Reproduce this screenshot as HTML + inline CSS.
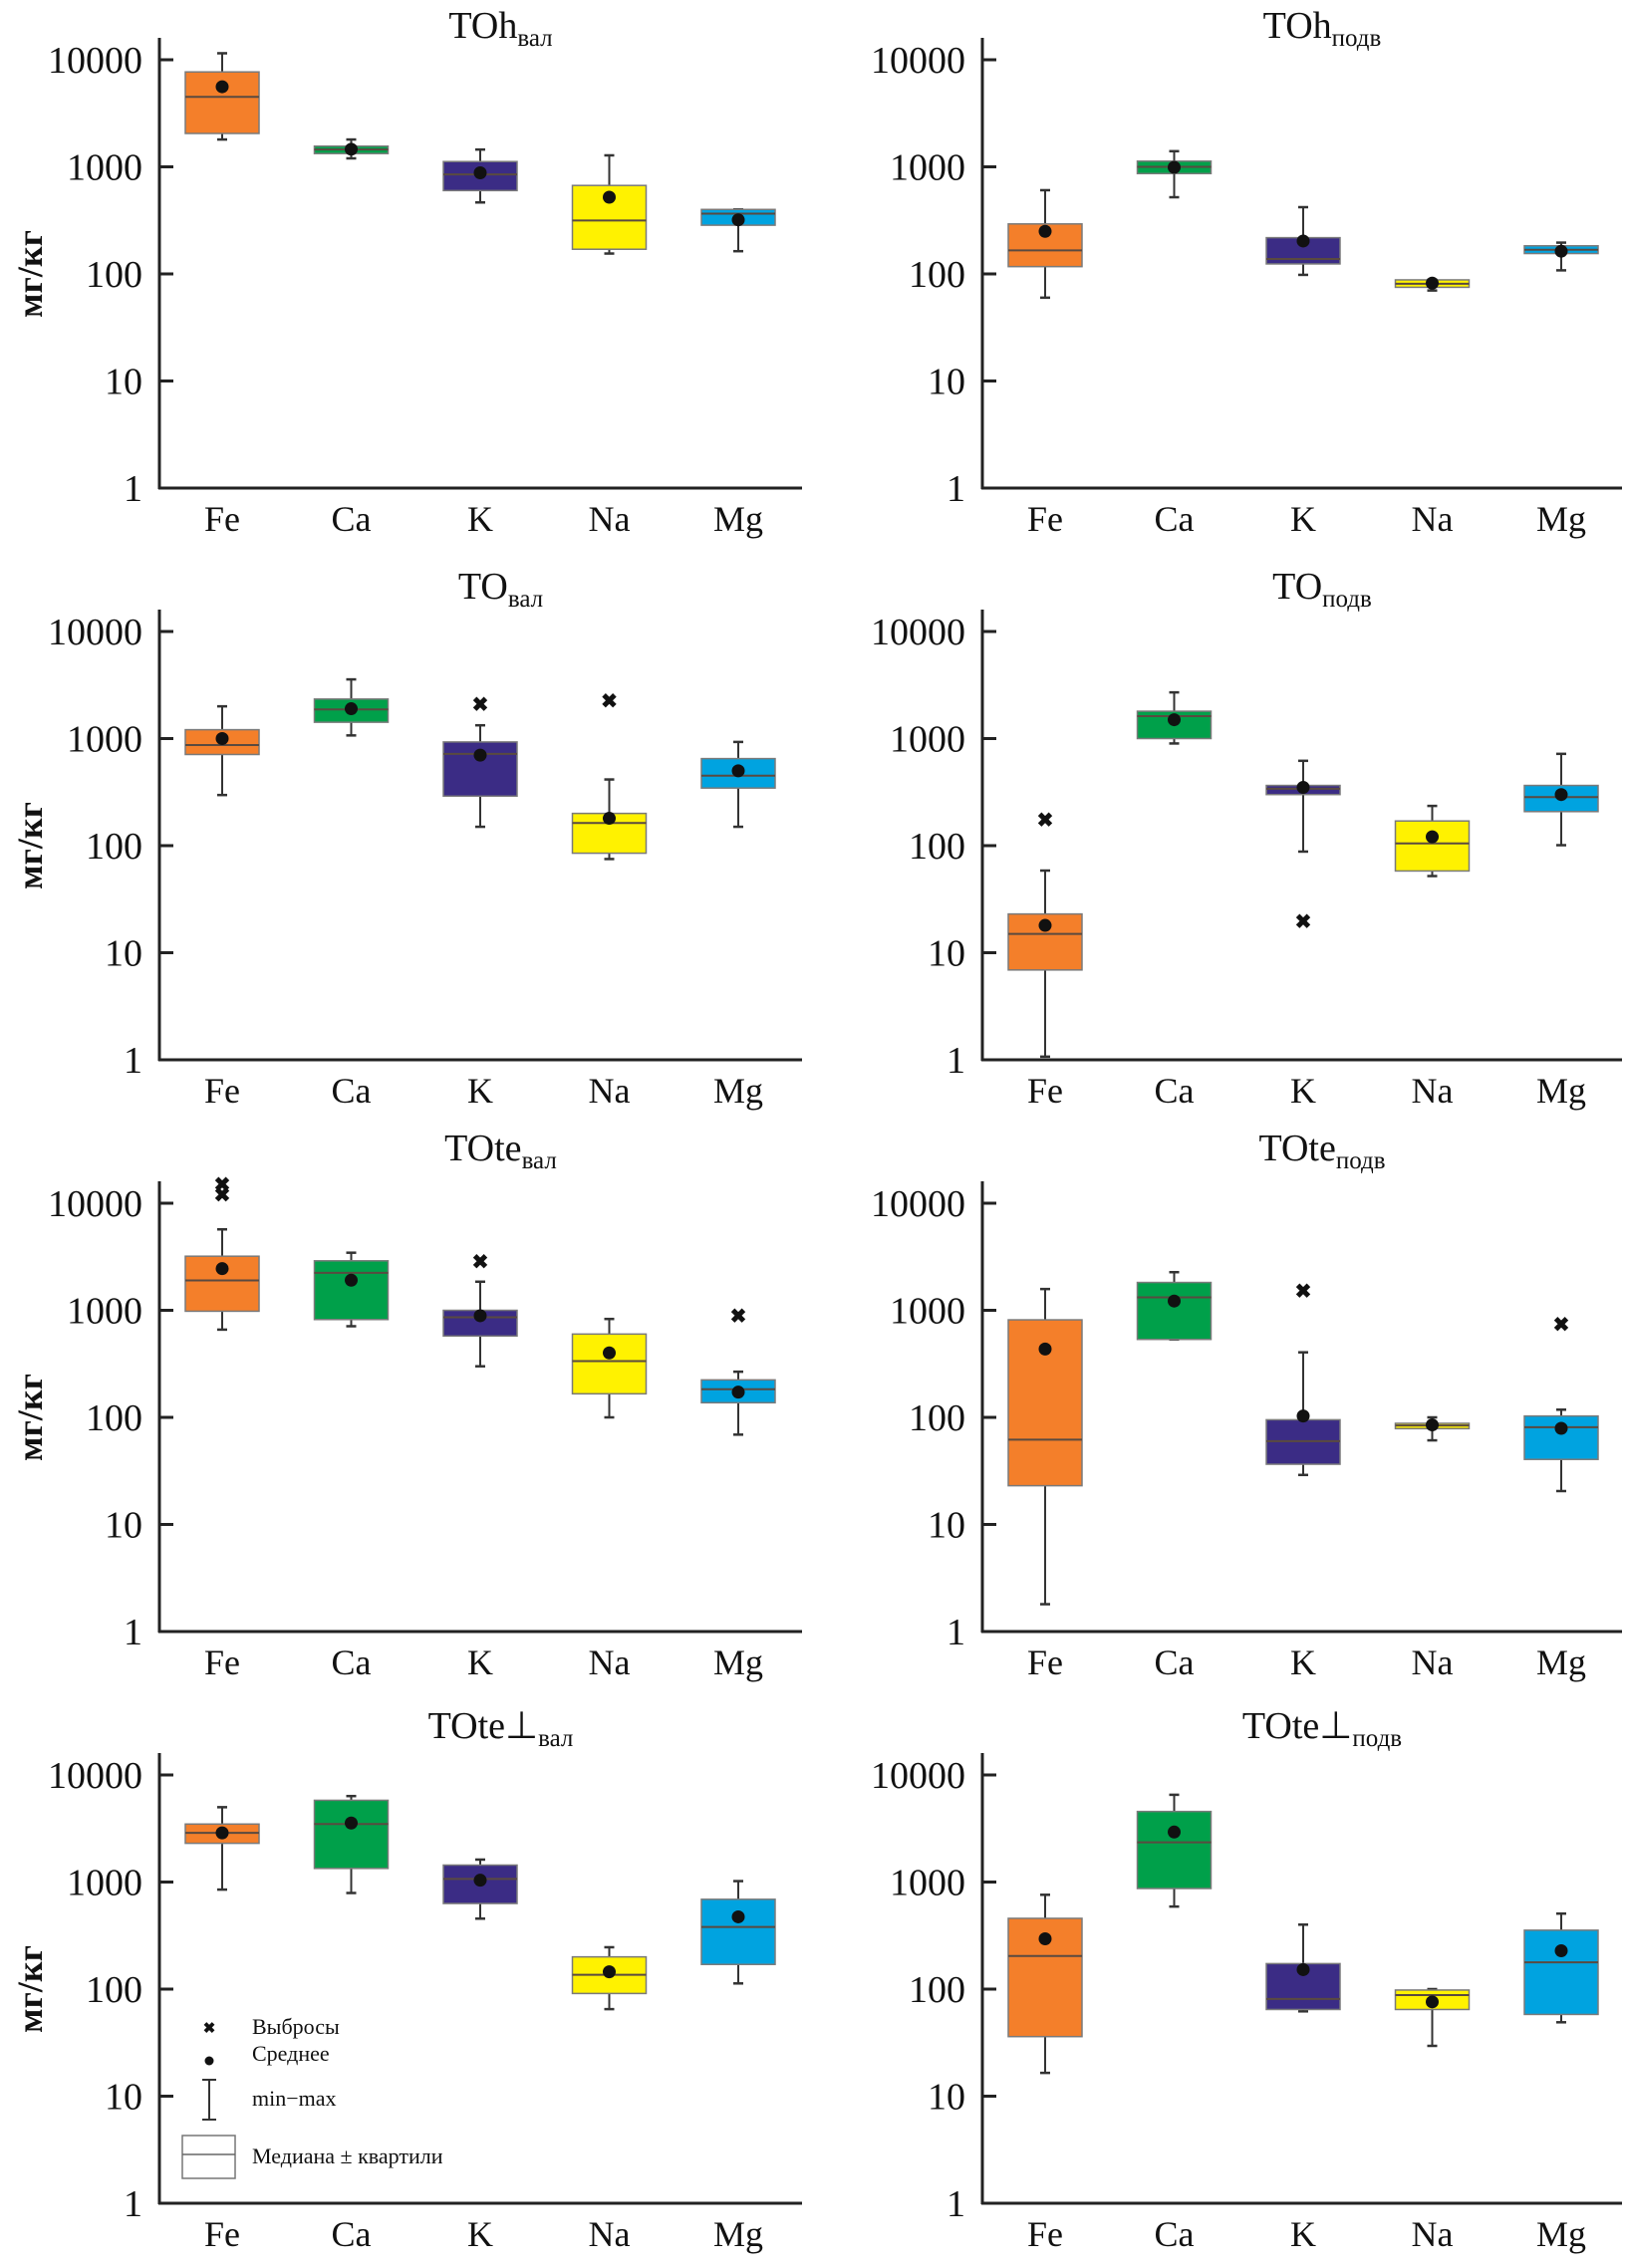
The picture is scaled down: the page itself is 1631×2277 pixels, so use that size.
<!DOCTYPE html>
<html><head><meta charset="utf-8"><style>
html,body{margin:0;padding:0;background:#fff}
svg{display:block}
text{font-family:"Liberation Serif",serif;fill:#111}
</style></head><body>
<svg id="fig" xmlns="http://www.w3.org/2000/svg" width="1631" height="2277" viewBox="0 0 1631 2277"></svg>
<script>
const categories = ["Fe","Ca","K","Na","Mg"];
const panelTitles = ["TOh","TOh","TO","TO","TOte","TOte","TOte\u22A5","TOte\u22A5"];
const panelSubs = ["вал","подв","вал","подв","вал","подв","вал","подв"];
const tickValues = [1,10,100,1000,10000];
const tickLabels = ["1","10","100","1000","10000"];
// per panel (row-major: left, right), per category
const minVals = [
 [1800,1200,465,155,163],[60,520,98,70,108],
 [297,1070,150,75,150],[1.07,900,88,52,101],
 [660,710,300,100,69],[1.8,535,29,61,20.5],
 [850,790,455,65,113],[16.5,590,62,29.5,49]];
const q1Vals = [
 [2050,1330,600,170,285],[117,865,124,75,155],
 [710,1420,290,85,345],[6.9,1000,300,58,208],
 [980,820,575,166,137],[23,535,36.5,78.5,40.5],
 [2300,1340,630,91,170],[36,870,64.5,64.5,58]];
const medVals = [
 [4500,1450,850,315,365],[166,1000,138,81,168],
 [870,1870,720,163,450],[15,1620,340,105,284],
 [1900,2240,860,335,183],[62,1320,60,84,81],
 [2880,3480,1070,136,380],[204,2350,81,88,178]];
const q3Vals = [
 [7700,1560,1120,670,400],[293,1130,218,88,183],
 [1210,2340,930,200,650],[23,1800,365,170,365],
 [3200,2900,1000,600,224],[815,1820,95,88,103],
 [3480,5800,1440,200,690],[458,4560,173,98,355]];
const maxVals = [
 [11500,1800,1450,1280,400],[605,1400,420,88,196],
 [2000,3570,1330,415,930],[58.5,2700,620,235,720],
 [5700,3450,1850,830,267],[1580,2270,405,100,118],
 [5000,6350,1620,246,1020],[760,6530,400,100,507]];
const meanVals = [
 [5600,1460,880,520,320],[250,990,203,82,163],
 [1000,1900,700,180,500],[18,1500,350,121,300],
 [2450,1910,890,400,172],[435,1220,103,85,79],
 [2880,3560,1040,145,473],[295,2930,152,76,228]];
// outliers: [panel, categoryIndex, value]
const outliers = [
 [2,2,2100],[2,3,2250],[3,0,175],[3,2,19.6],
 [4,0,15000],[4,0,12000],[4,2,2850],[4,4,890],
 [5,2,1520],[5,4,740]];
const boxColors = ["#F47F2A","#00A04A","#3B2C85","#FFF200","#00A3E0"];

const NS="http://www.w3.org/2000/svg";
const svg=document.getElementById('fig');
function mk(tag,attrs,parent){const e=document.createElementNS(NS,tag);for(const k in attrs)e.setAttribute(k,attrs[k]);(parent||svg).appendChild(e);return e;}

const rowBase=[490,1064,1638,2212];
const titleBase=[38,601,1165,1745];
const colAxisX=[160,986];
const colRight=[805,1628];
const colCat0=[223,1049];
const catStep=129.5;
const decade=107.5;
const boxW=74;

for(let p=0;p<8;p++){
  const row=Math.floor(p/2), col=p%2;
  const y1=rowBase[row], ax=colAxisX[col];
  const yScale=v=>y1-Math.log10(v)*decade;
  const xScale=i=>colCat0[col]+i*catStep;
  const g=mk('g',{});
  
  
  const t=mk('text',{x:(ax+colRight[col])/2+20,y:titleBase[row],'text-anchor':'middle','font-size':38},g);
  
  
  t.appendChild(document.createTextNode(panelTitles[p]));
  const ts=mk('tspan',{'font-size':25,dy:8},t);ts.textContent=panelSubs[p];
  const ya=mk('line',{x1:ax,y1:y1-452,x2:ax,y2:y1+1,stroke:'#222','stroke-width':3},g);
  
  const xa=mk('line',{x1:ax-1,y1:y1,x2:colRight[col],y2:y1,stroke:'#222','stroke-width':3},g);
  
  tickValues.forEach((v,i)=>{
    const y=yScale(v);
    if(i>0){const tk=mk('line',{x1:ax,y1:y,x2:ax+14,y2:y,stroke:'#222','stroke-width':3},g);
      }
    const tl=mk('text',{x:ax-17,y:y+13,'text-anchor':'end','font-size':38,textLength:19*tickLabels[i].length,lengthAdjust:'spacingAndGlyphs'},g);
    
    tl.textContent=tickLabels[i];
  });
  if(col===0){
    const yl=mk('text',{x:0,y:0,'text-anchor':'middle','font-size':36,'font-weight':'bold',transform:`translate(42,${y1-215}) rotate(-90)`},g);
    
    yl.textContent='мг/кг';
  }
  categories.forEach((c,i)=>{
    const cx=xScale(i);
    const cl=mk('text',{x:cx,y:y1+43,'text-anchor':'middle','font-size':36},g);
    
    cl.textContent=c;
    const wh=mk('line',{x1:cx,y1:yScale(maxVals[p][i]),x2:cx,y2:yScale(minVals[p][i]),stroke:'#333','stroke-width':2},g);
    
    [maxVals[p][i],minVals[p][i]].forEach(v=>{
      const cap=mk('line',{x1:cx-5,y1:yScale(v),x2:cx+5,y2:yScale(v),stroke:'#333','stroke-width':2.5},g);
      
    });
    const yt=yScale(q3Vals[p][i]), yb=yScale(q1Vals[p][i]);
    const bx=mk('rect',{x:cx-boxW/2,y:yt,width:boxW,height:Math.max(yb-yt,2),fill:boxColors[i],stroke:'#7a7a7a','stroke-width':1.5},g);
    
    const md=mk('line',{x1:cx-boxW/2,y1:yScale(medVals[p][i]),x2:cx+boxW/2,y2:yScale(medVals[p][i]),stroke:'#5a4a40','stroke-width':2},g);
    
    const mn=mk('circle',{cx:cx,cy:yScale(meanVals[p][i]),r:6.5,fill:'#111'},g);
    
  });
  outliers.filter(o=>o[0]===p).forEach(o=>{
    const ox=xScale(o[1]), oy=yScale(o[2]);
    const om=mk('text',{x:ox,y:oy+7,'text-anchor':'middle','font-size':20,'font-weight':'bold','font-family':'DejaVu Sans, sans-serif'},g);
    
    om.textContent='\u2716';
  });
}
const lg=mk('g',{});


const l1=mk('text',{x:210,y:2041,'text-anchor':'middle','font-size':15,'font-weight':'bold','font-family':'DejaVu Sans, sans-serif'},lg);
l1.textContent='\u2716';
const l1t=mk('text',{x:253,y:2042,'font-size':22},lg);
l1t.textContent='Выбросы';
const l2=mk('circle',{cx:210,cy:2069,r:4.5,fill:'#111'},lg);

const l2t=mk('text',{x:253,y:2069,'font-size':22},lg);
l2t.textContent='Среднее';
const l3=mk('path',{d:'M203 2088 H217 M210 2088 V2128 M203 2128 H217',stroke:'#333','stroke-width':2,fill:'none'},lg);

const l3t=mk('text',{x:253,y:2114,'font-size':22},lg);
l3t.textContent='min\u2212max';
const l4=mk('rect',{x:183,y:2144,width:53,height:43,fill:'#fff',stroke:'#777','stroke-width':1.5},lg);

const l4m=mk('line',{x1:183,y1:2163,x2:236,y2:2163,stroke:'#666','stroke-width':1.5},lg);

const l4t=mk('text',{x:253,y:2172,'font-size':22},lg);
l4t.textContent='Медиана \u00B1 квартили';
</script>
</body></html>
